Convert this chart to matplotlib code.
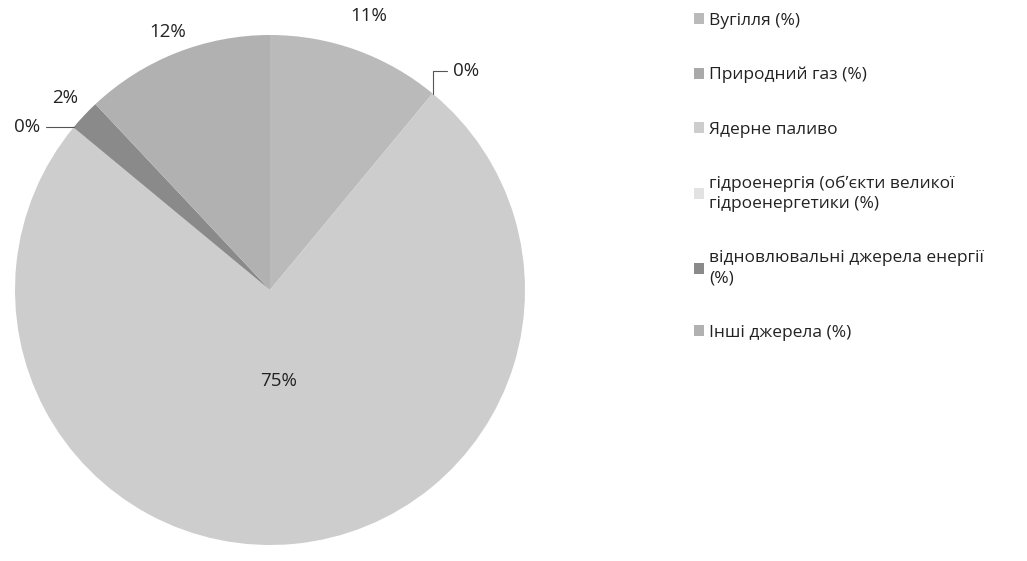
import numpy as np
from matplotlib import pyplot as plt

# energy mix shares, Excel-style pie (starts at 12 o'clock, clockwise)
labels = ["Вугілля (%)",
          "Природний газ (%)",
          "Ядерне паливо",
          "гідроенергія (об’єкти великої\nгідроенергетики (%)",
          "відновлювальні джерела енергії\n(%)",
          "Інші джерела (%)"]
shares = [11, 0, 75, 0, 2, 12]
pct_text = ["11%", "0%", "75%", "0%", "2%", "12%"]

colors = ["#bababa", "#a9a9a9", "#cdcdcd", "#e2e2e2", "#8a8a8a", "#b1b1b1"]

plt.rcParams["font.family"] = ["Open Sans", "DejaVu Sans"]

fig = plt.figure(figsize=(10.27, 5.61), dpi=100)
ax = fig.add_axes([15 / 1027, 16 / 561, 510 / 1027, 510 / 561])

wedges, _ = ax.pie(shares, colors=colors, startangle=90, counterclock=False,
                   radius=1.0, wedgeprops=dict(linewidth=0))
ax.set_xlim(-1, 1)
ax.set_ylim(-1, 1)
ax.set_aspect("equal")

# label placement: distance from centre (fraction of radius)
dist = [1.14, 1.0, 0.36, 1.0, 1.1, 1.09]
for w, t, d in zip(wedges, pct_text, dist):
    mid = np.deg2rad((w.theta1 + w.theta2) / 2)
    x, y = np.cos(mid), np.sin(mid)
    if t == "0%":
        # tiny slices get a short leader line
        sx = 1 if x > 0 else -1
        if sx > 0:
            tx, ty, ha = x + 0.08, y + 0.09, "left"
        else:
            tx, ty, ha = x - 0.13, y, "right"
        ax.annotate(t, xy=(x, y), xytext=(tx, ty), ha=ha, va="center",
                    fontsize=13.5, color="#222222",
                    arrowprops=dict(arrowstyle="-", color="#555555", lw=0.8,
                                    connectionstyle="angle,angleA=0,angleB=90,rad=0",
                                    shrinkA=2, shrinkB=0))
    else:
        ax.text(d * x, d * y, t, ha="center", va="center", fontsize=13.5, color="#222222")

leg = fig.legend(wedges, labels, loc="upper left", bbox_to_anchor=(678 / 1027, 1 + 3 / 561),
                 frameon=False, fontsize=12.5, labelspacing=2.2, handlelength=0.6,
                 handleheight=0.6, handletextpad=0.3, labelcolor="#222222")
for t in leg.get_texts():
    t.set_linespacing(1.35)

plt.savefig("out.png")
